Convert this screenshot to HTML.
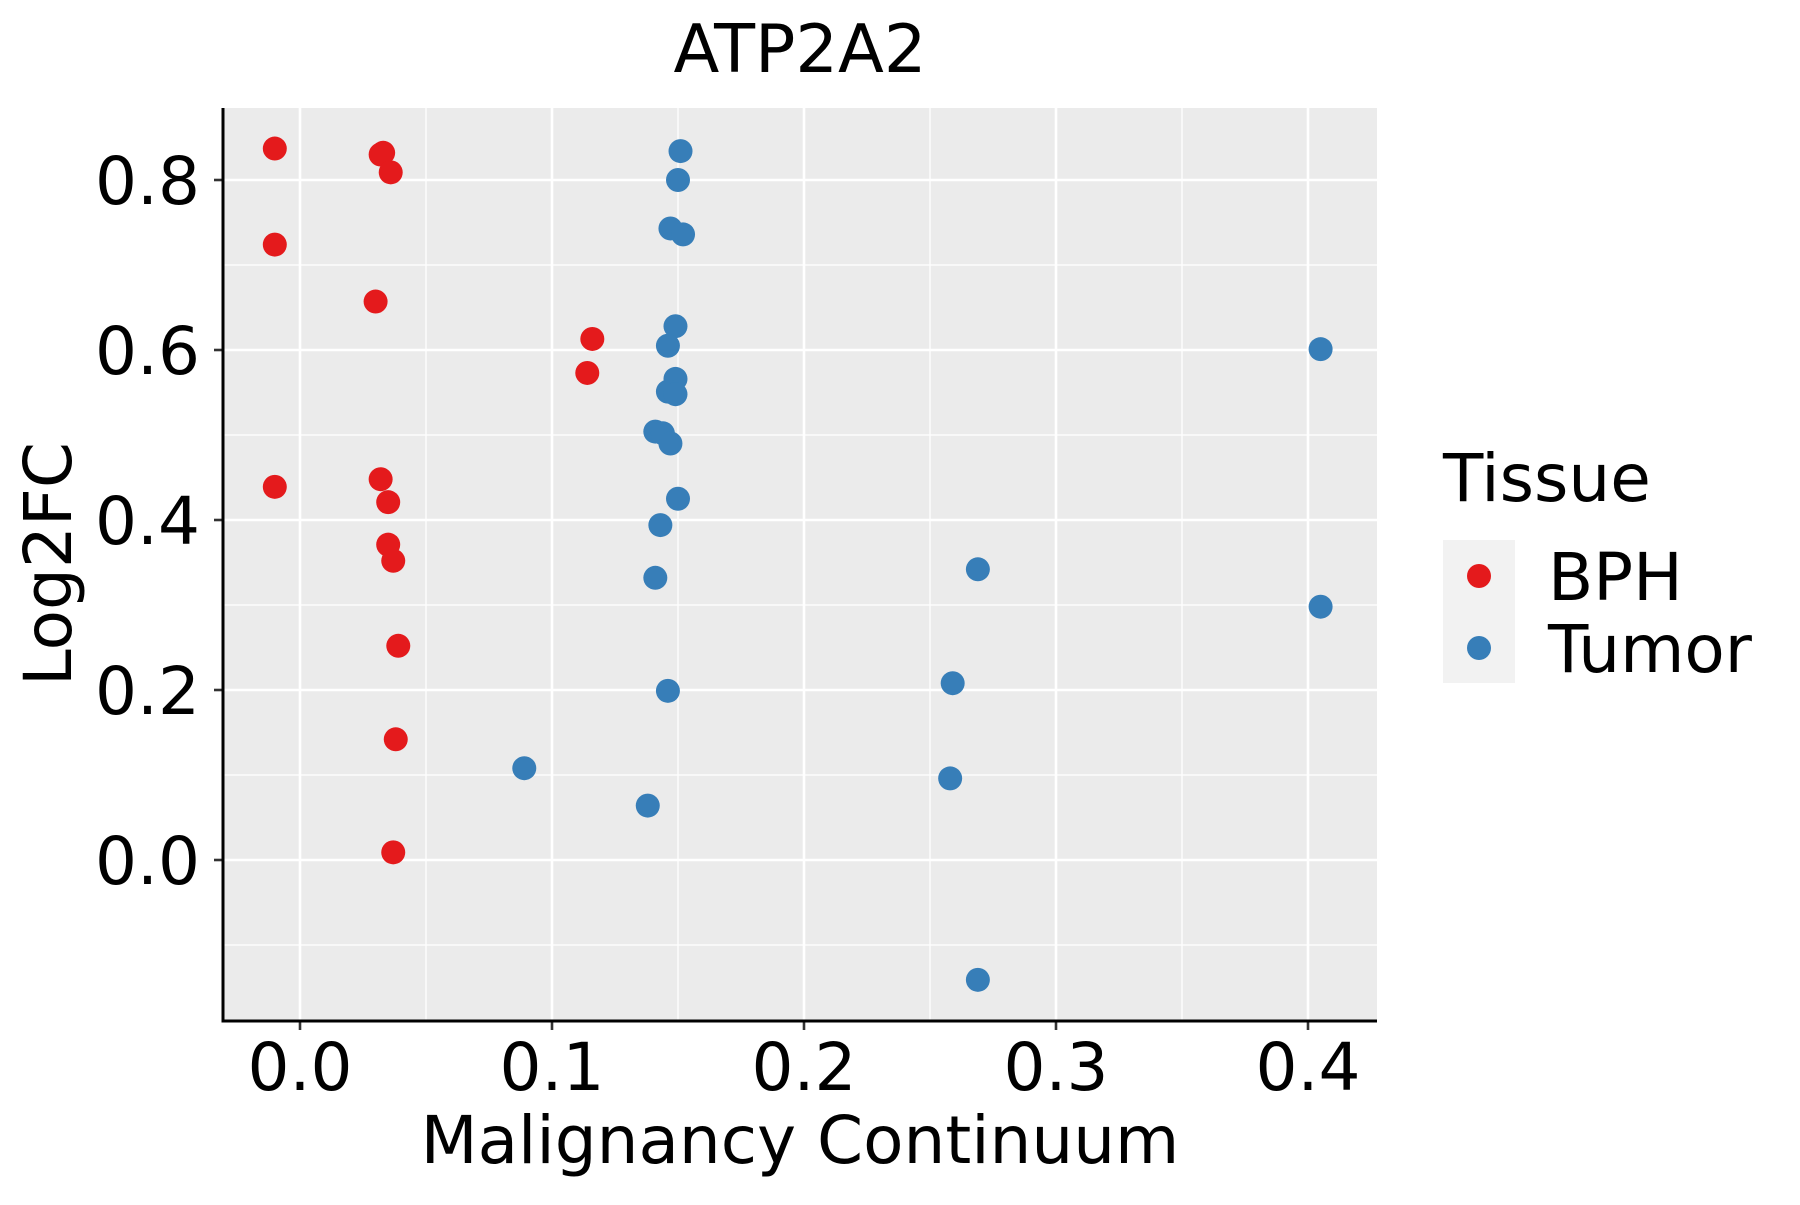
<!DOCTYPE html>
<html><head><meta charset="utf-8"><style>
html,body{margin:0;padding:0;background:#fff;}
text{font-family:"DejaVu Sans","Liberation Sans",sans-serif;fill:#000;}
</style></head><body>
<svg id="chart" width="1800" height="1200" viewBox="0 0 1800 1200" xmlns="http://www.w3.org/2000/svg">
<rect width="1800" height="1200" fill="#fff"/>
<g id="grid"></g><g id="pts"></g><g id="axes"></g>
<text x="800" y="72" font-size="67" text-anchor="middle">ATP2A2</text>
<text x="800" y="1163" font-size="66" text-anchor="middle">Malignancy Continuum</text>
<text transform="translate(71,564) rotate(-90)" font-size="66" text-anchor="middle">Log2FC</text>
<g>
<text x="1443" y="501" font-size="66">Tissue</text>
<rect x="1443" y="540" width="72" height="143" fill="#f2f2f2"/>
<circle cx="1479" cy="576" r="12" fill="#e41a1c"/>
<circle cx="1479" cy="648" r="12" fill="#377eb8"/>
<text x="1548" y="600" font-size="66">BPH</text>
<text x="1548" y="672" font-size="66">Tumor</text>
</g>
</svg>
<script>
const xTicks=[0.0,0.1,0.2,0.3,0.4];
const xTickLabels=["0.0","0.1","0.2","0.3","0.4"];
const yTicks=[0.0,0.2,0.4,0.6,0.8];
const yTickLabels=["0.0","0.2","0.4","0.6","0.8"];
const bphX=[-0.010,0.033,0.032,0.036,-0.010,0.030,0.116,0.114,-0.010,0.032,0.035,0.035,0.037,0.039,0.038,0.037];
const bphY=[0.837,0.832,0.830,0.809,0.724,0.657,0.613,0.573,0.439,0.448,0.421,0.371,0.352,0.252,0.142,0.009];
const tumorX=[0.151,0.150,0.147,0.152,0.149,0.146,0.149,0.146,0.149,0.141,0.144,0.147,0.150,0.143,0.141,0.146,0.089,0.138,0.405,0.269,0.405,0.259,0.258,0.269];
const tumorY=[0.834,0.800,0.743,0.736,0.628,0.605,0.566,0.551,0.548,0.504,0.502,0.490,0.425,0.394,0.332,0.199,0.108,0.064,0.601,0.342,0.298,0.208,0.096,-0.141];
const L=223,R=1377,T=108,B=1021;
const sx=v=>300+v*2520, sy=v=>860-v*850;
const NS="http://www.w3.org/2000/svg";
function mk(tag,attrs,parent){const e=document.createElementNS(NS,tag);for(const k in attrs)e.setAttribute(k,attrs[k]);parent.appendChild(e);return e;}
const grid=document.getElementById('grid'),pts=document.getElementById('pts'),axes=document.getElementById('axes');
const bg=mk('rect',{x:L,y:T,width:R-L,height:B-T,fill:'#ebebeb'},grid);


for(let i=0;i<xTicks.length;i++){
  const mid=xTicks[i]+0.05; const xm=sx(mid);
  if(xm>L&&xm<R){const m=mk('line',{x1:xm,x2:xm,y1:T,y2:B,stroke:'#fff','stroke-width':1.3},grid);
  
  }
  const x=sx(xTicks[i]);
  const g=mk('line',{x1:x,x2:x,y1:T,y2:B,stroke:'#fff','stroke-width':2.6},grid);
  
  
  const t=mk('line',{x1:x,x2:x,y1:B,y2:B+9,stroke:'#333','stroke-width':2.6},axes);
  
  
  const lb=mk('text',{x:x,y:1090,'font-size':66,'text-anchor':'middle',fill:'#000'},axes);
  lb.textContent=xTickLabels[i];
  
  
}
const yMinor=[-0.1,0.1,0.3,0.5,0.7];
for(const v of yMinor){const y=sy(v);
  const m=mk('line',{x1:L,x2:R,y1:y,y2:y,stroke:'#fff','stroke-width':1.3},grid);
  
  }
for(let i=0;i<yTicks.length;i++){
  const y=sy(yTicks[i]);
  const g=mk('line',{x1:L,x2:R,y1:y,y2:y,stroke:'#fff','stroke-width':2.6},grid);
  
  
  const t=mk('line',{x1:L-9,x2:L,y1:y,y2:y,stroke:'#333','stroke-width':2.6},axes);
  
  
  const lb=mk('text',{x:200,y:y+24,'font-size':66,'text-anchor':'end',fill:'#000'},axes);
  lb.textContent=yTickLabels[i];
  
  
}
const ax=mk('line',{x1:L,x2:L,y1:T,y2:B+1.5,stroke:'#000','stroke-width':3},axes);


const bx=mk('line',{x1:L-1.5,x2:R,y1:B,y2:B,stroke:'#000','stroke-width':3},axes);


for(let i=0;i<bphX.length;i++){
  const c=mk('circle',{cx:sx(bphX[i]),cy:sy(bphY[i]),r:12,fill:'#e41a1c'},pts);
  
  
}
for(let i=0;i<tumorX.length;i++){
  const c=mk('circle',{cx:sx(tumorX[i]),cy:sy(tumorY[i]),r:12,fill:'#377eb8'},pts);
  
  
}
</script>
</body></html>
